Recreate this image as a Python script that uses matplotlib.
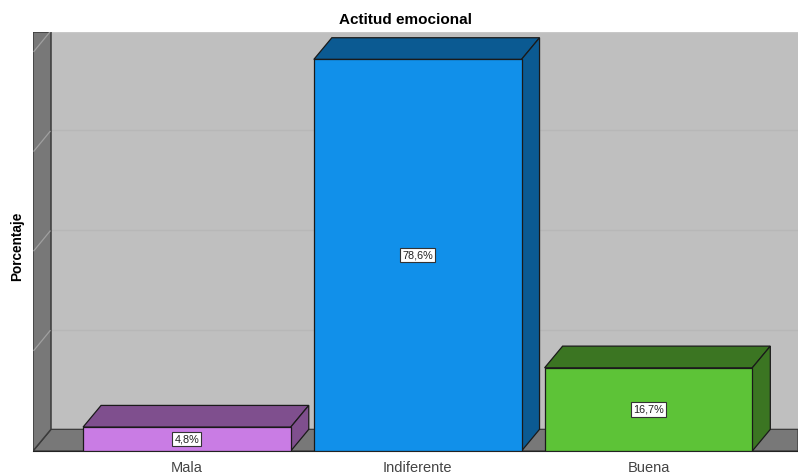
import numpy as np
import matplotlib
matplotlib.use('Agg')
import matplotlib.pyplot as plt
from matplotlib.patches import Polygon, Rectangle

CATEGORIES = ['Mala', 'Indiferente', 'Buena']
VALUES = [4.8, 78.6, 16.7]
LABELS = ['4,8%', '78,6%', '16,7%']
FRONT_COLS = ['#c97ce4', '#1190ea', '#5dc337']
SIDE_COLS = ['#7f4f8e', '#0b5a92', '#3b7522']
GRID_VALUES = [20, 40, 60, 80]

TITLE = 'Actitud emocional'
YLABEL = 'Porcentaje'

WIDTH, HEIGHT = 798, 474
# plot area in pixels
LEFT, RIGHT, TOP, BOTTOM = 33, 798, 32, 451

BAR_W = 0.9
DX = 0.078 # depth of the 3d effect, x units
DY = 4.35 # depth of the 3d effect, y units
XLIM = (-0.667, 2.648)
YLIM = (0, 84.1)

WALL_COL = '#787878'
BACK_COL = '#bfbfbf'
GRID_COL = '#b7b7b7'
TICK_COL = '#a0a0a0'
EDGE_COL = '#1a1a1a'
FONT = 'Liberation Sans'

plt.rcParams['font.family'] = FONT

# draws the grey box behind the bars
def draw_box(ax):
	x0, x1 = XLIM
	y1 = YLIM[1]
	ax.add_patch(Rectangle((x0, 0), x1 - x0, y1, fc=BACK_COL, ec='none', zorder=1))

	# floor and left wall
	floor = [(x0, 0), (x0 + DX, DY), (x1, DY), (x1, 0)]
	wall = [(x0, 0), (x0 + DX, DY), (x0 + DX, y1), (x0, y1)]
	ax.add_patch(Polygon(floor, fc=WALL_COL, ec='#3a3a3a', lw=0.9, zorder=2))
	ax.add_patch(Polygon(wall, fc=WALL_COL, ec='#3a3a3a', lw=1.1, zorder=2))

	# grid on the back wall, ticks on the left one
	for g in GRID_VALUES:
		ax.plot([x0 + DX, x1], [g + DY, g + DY], color=GRID_COL, lw=1, zorder=1.5)
		ax.plot([x0 + 0.004, x0 + DX - 0.004], [g + 0.2, g + DY - 0.2], color=TICK_COL, lw=0.9, zorder=3)

	ax.plot([x0, x1], [y1, y1], color='#c8c8c8', lw=1, zorder=1.6)

# draws one bar: side, top, front and the value label
def draw_bar(ax, pos, val, label, front, side):
	x0 = pos - BAR_W / 2
	x1 = pos + BAR_W / 2

	top = [(x0, val), (x0 + DX, val + DY), (x1 + DX, val + DY), (x1, val)]
	right = [(x1, 0), (x1 + DX, DY), (x1 + DX, val + DY), (x1, val)]
	ax.add_patch(Polygon(top, fc=side, ec=EDGE_COL, lw=0.9, zorder=4))
	ax.add_patch(Polygon(right, fc=side, ec=EDGE_COL, lw=0.9, zorder=4))
	ax.add_patch(Rectangle((x0, 0), BAR_W, val, fc=front, ec=EDGE_COL, lw=0.9, zorder=5))

	ax.text(pos, val / 2, label, ha='center', va='center', fontsize=7.8, color='#222222', zorder=6,
		bbox=dict(boxstyle='square,pad=0.2', fc='white', ec='#333333', lw=0.8))

if __name__ == "__main__":
	fig = plt.figure(figsize=(WIDTH / 100, HEIGHT / 100), dpi=100, facecolor='white')
	ax = fig.add_axes([LEFT / WIDTH, 1 - BOTTOM / HEIGHT, (RIGHT - LEFT) / WIDTH, (BOTTOM - TOP) / HEIGHT])
	ax.set_xlim(*XLIM)
	ax.set_ylim(*YLIM)

	draw_box(ax)
	for i in range(len(VALUES)):
		draw_bar(ax, i, VALUES[i], LABELS[i], FRONT_COLS[i], SIDE_COLS[i])

	ax.set_xticks(range(len(CATEGORIES)))
	ax.set_xticklabels(CATEGORIES, fontsize=10.5, color='#444444')
	ax.tick_params(axis='x', length=0, pad=7.5)
	ax.set_yticks([])
	for s in ax.spines.values():
		s.set_visible(False)

	ax.spines['bottom'].set_visible(True)
	ax.spines['bottom'].set_color('#222222')

	fig.text(405 / WIDTH, 1 - 20 / HEIGHT, TITLE, ha='center', va='center', fontsize=11, fontweight='bold')
	fig.text(17 / WIDTH, 1 - 246 / HEIGHT, YLABEL, ha='center', va='center', rotation=90, fontsize=9.8, fontweight='bold')

	fig.savefig('out.png', dpi=100)
